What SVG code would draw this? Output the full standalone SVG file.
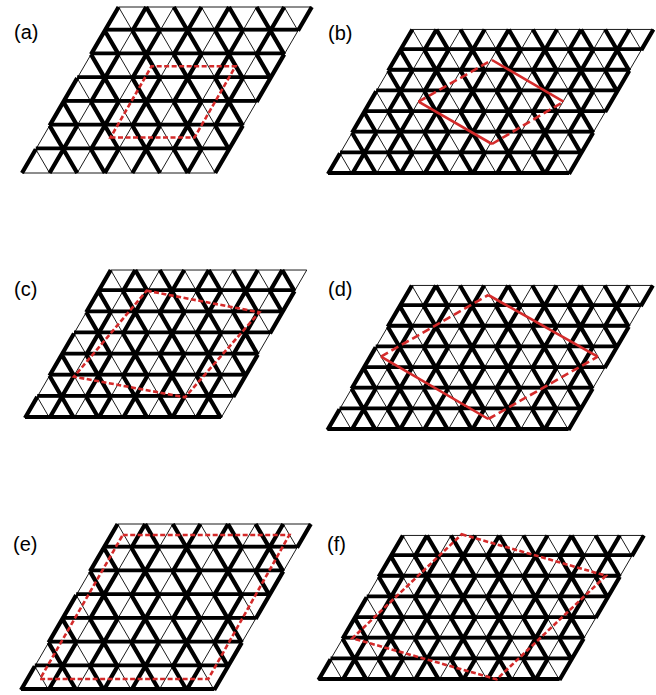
<svg xmlns="http://www.w3.org/2000/svg" xmlns:xlink="http://www.w3.org/1999/xlink" width="656" height="695" viewBox="0 0 656 695">
<style>
.red{fill:none;stroke:#d42a2a;stroke-width:2.6;stroke-dasharray:5 2.5}
.redl{fill:none;stroke:#d42a2a;stroke-width:2.6;stroke-dasharray:8 4}
.reds{fill:none;stroke:#d42a2a;stroke-width:2.6}
.lbl{font-family:"Liberation Sans",Arial,sans-serif;font-size:20px;fill:#000}
</style>
<defs>
<path id="L7" fill="none" stroke="#000" stroke-width="0.9" vector-effect="non-scaling-stroke" d="M0 0H7M0 1H7M0 2H7M0 3H7M0 4H7M0 5H7M0 6H7M0 7H7M0 0V7M1 0V7M2 0V7M3 0V7M4 0V7M5 0V7M6 0V7M7 0V7M1 0L0 1M2 0L0 2M3 0L0 3M4 0L0 4M5 0L0 5M6 0L0 6M7 0L0 7M7 1L1 7M7 2L2 7M7 3L3 7M7 4L4 7M7 5L5 7M7 6L6 7"/>
<path id="L10" fill="none" stroke="#000" stroke-width="0.9" vector-effect="non-scaling-stroke" d="M0 0H10M0 1H10M0 2H10M0 3H10M0 4H10M0 5H10M0 6H10M0 7H10M0 0V7M1 0V7M2 0V7M3 0V7M4 0V7M5 0V7M6 0V7M7 0V7M8 0V7M9 0V7M10 0V7M1 0L0 1M2 0L0 2M3 0L0 3M4 0L0 4M5 0L0 5M6 0L0 6M7 0L0 7M8 0L1 7M9 0L2 7M10 0L3 7M10 1L4 7M10 2L5 7M10 3L6 7M10 4L7 7M10 5L8 7M10 6L9 7"/>
<path id="L8" fill="none" stroke="#000" stroke-width="0.9" vector-effect="non-scaling-stroke" d="M0 0H8M0 1H8M0 2H8M0 3H8M0 4H8M0 5H8M0 6H8M0 7H8M0 0V7M1 0V7M2 0V7M3 0V7M4 0V7M5 0V7M6 0V7M7 0V7M8 0V7M1 0L0 1M2 0L0 2M3 0L0 3M4 0L0 4M5 0L0 5M6 0L0 6M7 0L0 7M8 0L1 7M8 1L2 7M8 2L3 7M8 3L4 7M8 4L5 7M8 5L6 7M8 6L7 7"/>
<path id="H7" fill="none" stroke="#000" stroke-width="3.8" vector-effect="non-scaling-stroke" d="M0 1H7M0 2H7M0 3H7M0 4H7M0 5H7M0 6H7"/>
<path id="H7b" fill="none" stroke="#000" stroke-width="3.8" vector-effect="non-scaling-stroke" d="M0 0H7M0 1H7M0 2H7M0 3H7M0 4H7M0 5H7M0 6H7"/>
<path id="H10" fill="none" stroke="#000" stroke-width="3.8" vector-effect="non-scaling-stroke" d="M0 0H10M0 1H10M0 2H10M0 3H10M0 4H10M0 5H10M0 6H10"/>
<path id="H8" fill="none" stroke="#000" stroke-width="3.8" vector-effect="non-scaling-stroke" d="M0 0H8M0 1H8M0 2H8M0 3H8M0 4H8M0 5H8M0 6H8"/>
<path id="D7" fill="none" stroke="#000" stroke-width="4.2" vector-effect="non-scaling-stroke" d="M0 0V1M0 2V4M0 5V7M7 0V2M7 3V5M7 6V7M1 0V2M1 3V5M1 6V7M2 1V3M2 4V6M3 0V1M3 2V4M3 5V7M4 0V2M4 3V5M4 6V7M5 1V3M5 4V6M6 0V1M6 2V4M6 5V7M2 0L0 2M3 0L2 1M1 2L0 3M3 1L1 3M5 0L3 2M2 3L0 5M6 0L5 1M4 2L2 4M1 5L0 6M6 1L4 3M3 4L1 6M7 1L6 2M5 3L3 5M2 6L1 7M7 2L5 4M4 5L2 7M6 4L4 6M7 4L6 5M5 6L4 7M7 5L5 7"/>
<path id="D10" fill="none" stroke="#000" stroke-width="4.2" vector-effect="non-scaling-stroke" d="M0 0V1M0 2V4M0 5V7M10 0V2M10 3V5M10 6V7M1 0V2M1 3V5M1 6V7M2 1V3M2 4V6M3 0V1M3 2V4M3 5V7M4 0V2M4 3V5M4 6V7M5 1V3M5 4V6M6 0V1M6 2V4M6 5V7M7 0V2M7 3V5M7 6V7M8 1V3M8 4V6M9 0V1M9 2V4M9 5V7M2 0L0 2M3 0L2 1M1 2L0 3M3 1L1 3M5 0L3 2M2 3L0 5M6 0L5 1M4 2L2 4M1 5L0 6M6 1L4 3M3 4L1 6M8 0L6 2M5 3L3 5M2 6L1 7M9 0L8 1M7 2L5 4M4 5L2 7M9 1L7 3M6 4L4 6M10 1L9 2M8 3L6 5M5 6L4 7M10 2L8 4M7 5L5 7M9 4L7 6M10 4L9 5M8 6L7 7M10 5L8 7"/>
<path id="D8" fill="none" stroke="#000" stroke-width="4.2" vector-effect="non-scaling-stroke" d="M0 0V1M0 2V4M0 5V7M8 1V3M8 4V6M1 0V2M1 3V5M1 6V7M2 1V3M2 4V6M3 0V1M3 2V4M3 5V7M4 0V2M4 3V5M4 6V7M5 1V3M5 4V6M6 0V1M6 2V4M6 5V7M7 0V2M7 3V5M7 6V7M2 0L0 2M3 0L2 1M1 2L0 3M3 1L1 3M5 0L3 2M2 3L0 5M6 0L5 1M4 2L2 4M1 5L0 6M6 1L4 3M3 4L1 6M8 0L6 2M5 3L3 5M2 6L1 7M7 2L5 4M4 5L2 7M8 2L7 3M6 4L4 6M8 3L6 5M5 6L4 7M7 5L5 7M8 5L7 6M8 6L7 7"/>
</defs>
<rect width="656" height="695" fill="#fff"/>
<g id="panel-a">
<use href="#L7" transform="matrix(27.6,0,13.8,-23.714,22,173)"/>
<use href="#D7" transform="matrix(27.6,0,13.8,-23.714,22,173)"/>
<use href="#H7" transform="matrix(27.6,0,13.8,-23.714,22,172)"/>
<polygon class="red" points="110.5,137.5 194.5,137.5 235.5,66.3 151.5,66.3"/>
<text class="lbl" x="14" y="39">(a)</text>
</g>
<g id="panel-b">
<use href="#L10" transform="matrix(24.1,0,12.05,-20.65,328,174)"/>
<use href="#D10" transform="matrix(24.1,0,12.05,-20.65,328,174)"/>
<use href="#H10" transform="matrix(24.1,0,12.05,-20.65,328,173)"/>
<path class="redl" d="M418.5 101.7L492 60M492 144L563.5 101.7"/>
<path class="reds" d="M492 60L563.5 101.7M418.5 101.7L492 144"/>
<text class="lbl" x="328" y="40">(b)</text>
</g>
<g id="panel-c">
<use href="#L8" transform="matrix(24.5,0,12.25,-21.14,25,418)"/>
<use href="#D8" transform="matrix(24.5,0,12.25,-21.14,25,418)"/>
<use href="#H8" transform="matrix(24.5,0,12.25,-21.14,25,417)"/>
<polygon class="red" points="146.7,290.7 259.3,312.3 185,397.3 74,376.7"/>
<text class="lbl" x="14" y="296">(c)</text>
</g>
<g id="panel-d">
<use href="#L10" transform="matrix(24.1,0,12.05,-20.65,327.5,430)"/>
<use href="#D10" transform="matrix(24.1,0,12.05,-20.65,327.5,430)"/>
<use href="#H10" transform="matrix(24.1,0,12.05,-20.65,327.5,429)"/>
<path class="redl" d="M381 356.7L488.3 295M488.3 419L597.7 356.7"/>
<path class="reds" d="M488.3 295L597.7 356.7M381 356.7L488.3 419"/>
<text class="lbl" x="328" y="296">(d)</text>
</g>
<g id="panel-e">
<use href="#L7" transform="matrix(27.6,0,13.8,-23.714,21,690)"/>
<use href="#D7" transform="matrix(27.6,0,13.8,-23.714,21,690)"/>
<use href="#H7b" transform="matrix(27.6,0,13.8,-23.714,21,689)"/>
<polygon class="red" points="122.7,535 289.3,535 208.3,679 40,679"/>
<text class="lbl" x="13" y="551">(e)</text>
</g>
<g id="panel-f">
<use href="#L10" transform="matrix(24.1,0,12.05,-20.65,318.5,680)"/>
<use href="#D10" transform="matrix(24.1,0,12.05,-20.65,318.5,680)"/>
<use href="#H10" transform="matrix(24.1,0,12.05,-20.65,318.5,679)"/>
<polygon class="red" points="461.7,534.3 606,575.7 496.7,679.3 352.3,638.3"/>
<text class="lbl" x="327" y="551">(f)</text>
</g>
</svg>
